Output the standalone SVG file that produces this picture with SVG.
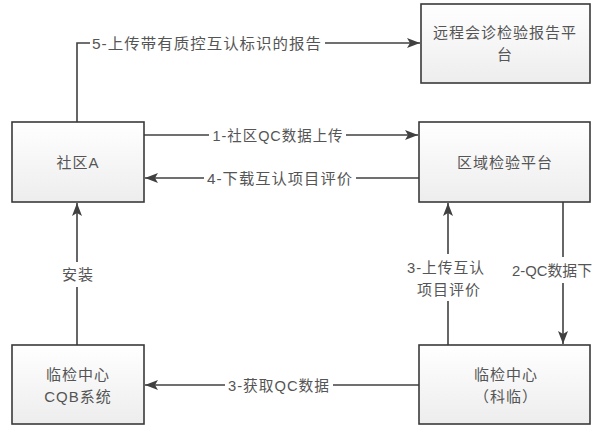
<svg xmlns="http://www.w3.org/2000/svg" width="598" height="441" viewBox="0 0 598 441">
<defs>
<linearGradient id="g" x1="0" y1="0" x2="0" y2="1">
<stop offset="0" stop-color="#ffffff"/>
<stop offset="1" stop-color="#ededed"/>
</linearGradient>
<marker id="ah" markerUnits="userSpaceOnUse" markerWidth="14" markerHeight="12" viewBox="0 0 14 12" refX="13" refY="6" orient="auto">
<path d="M0,1 L13,6 L0,11 L3,6 Z" fill="#404040"/>
</marker>
<style>
.box{fill:url(#g);stroke:#3a3a3a;stroke-width:1.6}
.t{font-family:"Liberation Sans","Noto Sans CJK SC",sans-serif;font-size:15px;letter-spacing:1px;fill:#555555;text-anchor:middle;dominant-baseline:central}
.c{fill:none;stroke:#404040;stroke-width:1.6}
.a{marker-end:url(#ah)}
</style>
</defs>
<rect width="598" height="441" fill="#ffffff"/>
<g id="connectors">
<path class="c" d="M77,122 V43 H90"/>
<path class="c a" d="M325,43 H420"/>
<path class="c" d="M144,135 H209"/>
<path class="c a" d="M346,135 H418"/>
<path class="c" d="M419,178 H356"/>
<path class="c a" d="M204,178 H145"/>
<path class="c" d="M77,345 V287"/>
<path class="c a" d="M77,262 V203"/>
<path class="c" d="M448,345 V301"/>
<path class="c a" d="M448,254 V203"/>
<path class="c" d="M563,202 V257"/>
<path class="c a" d="M563,283 V344"/>
<path class="c" d="M419,385 H333"/>
<path class="c a" d="M225,385 H145"/>
</g>
<g id="labels">
<text class="t" x="207" y="43" textLength="230" lengthAdjust="spacingAndGlyphs">5-上传带有质控互认标识的报告</text>
<text class="t" x="278" y="135" textLength="131" lengthAdjust="spacingAndGlyphs">1-社区QC数据上传</text>
<text class="t" x="280" y="178" textLength="146" lengthAdjust="spacingAndGlyphs">4-下载互认项目评价</text>
<text class="t" x="279" y="385" textLength="102" lengthAdjust="spacingAndGlyphs">3-获取QC数据</text>
<text class="t" x="78" y="274">安装</text>
<text class="t" x="446" y="267" textLength="78" lengthAdjust="spacingAndGlyphs">3-上传互认</text>
<text class="t" x="449" y="289">项目评价</text>
<text class="t" x="512" y="270" style="text-anchor:start;letter-spacing:0" textLength="80" lengthAdjust="spacingAndGlyphs">2-QC数据下</text>
</g>
<g id="node-community-a">
<rect class="box" x="12" y="122" width="132" height="80"/>
<text class="t" x="78" y="162">社区A</text>
</g>
<g id="node-remote-platform">
<rect class="box" x="421" y="4" width="169" height="79"/>
<text class="t" x="505" y="32">远程会诊检验报告平</text>
<text class="t" x="505" y="54">台</text>
</g>
<g id="node-regional-platform">
<rect class="box" x="419" y="122" width="171" height="80"/>
<text class="t" x="505" y="162">区域检验平台</text>
</g>
<g id="node-cqb">
<rect class="box" x="12" y="345" width="132" height="79"/>
<text class="t" x="78" y="374">临检中心</text>
<text class="t" x="78" y="396">CQB系统</text>
</g>
<g id="node-lab-center">
<rect class="box" x="419" y="345" width="171" height="79"/>
<text class="t" x="506" y="374">临检中心</text>
<text class="t" x="506" y="396">（科临）</text>
</g>
</svg>
